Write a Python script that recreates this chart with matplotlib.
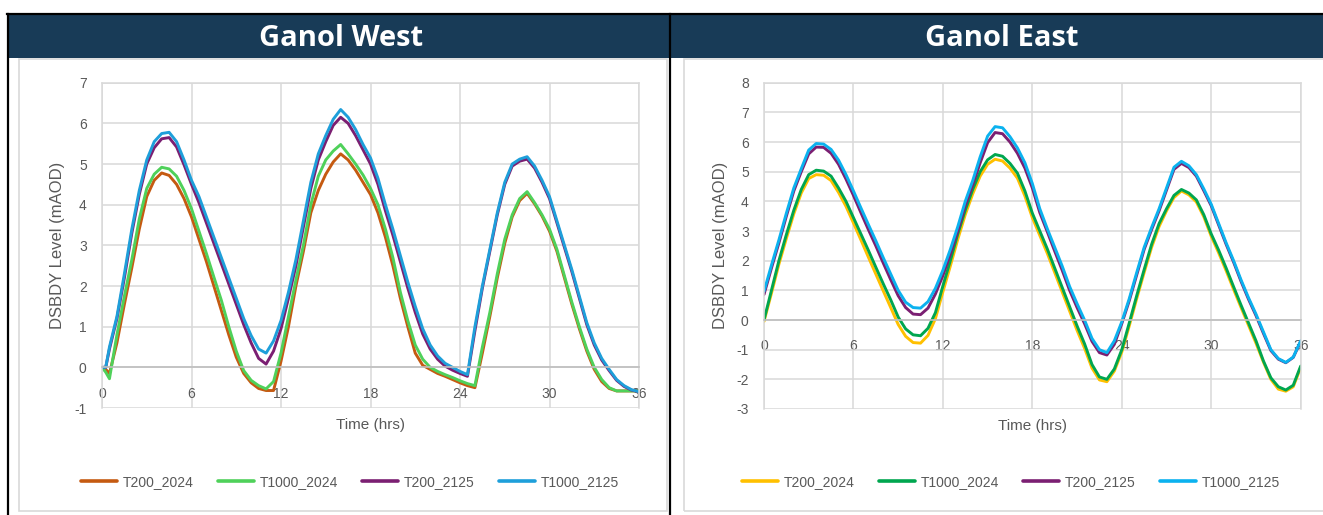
import numpy as np
import matplotlib
matplotlib.use("Agg")
import matplotlib.pyplot as plt
from matplotlib.patches import Rectangle
from matplotlib.lines import Line2D

plt.rcParams['font.family'] = ['Liberation Sans', 'DejaVu Sans']
plt.rcParams['axes.unicode_minus'] = False

# ---- data (DSBDY level in mAOD) ----
series_names = ['T200_2024', 'T1000_2024', 'T200_2125', 'T1000_2125']
x_ticks = [0, 6, 12, 18, 24, 30, 36]
x_tick_labels = ['0', '6', '12', '18', '24', '30', '36']

# half-hour steps; the west record has one extra sample at 0.25 h
hours_east = np.arange(0, 36.5, 0.5)
hours_west = np.insert(hours_east, 1, 0.25)

west_t200_2024 = [0, -0.05, -0.15, 0.6, 1.55, 2.45, 3.4, 4.2, 4.6, 4.78, 4.72, 4.5, 4.15,
                  3.7, 3.15, 2.6, 2.0, 1.4, 0.8, 0.25, -0.15, -0.38, -0.52, -0.57, -0.57,
                  0.15, 1.0, 2.0, 2.85, 3.8, 4.35, 4.75, 5.05, 5.25, 5.1, 4.85, 4.55,
                  4.25, 3.8, 3.2, 2.5, 1.7, 1.0, 0.35, 0.05, -0.05, -0.15, -0.22, -0.3,
                  -0.38, -0.45, -0.5, 0.35, 1.25, 2.2, 3.05, 3.7, 4.1, 4.28, 4.02, 3.72,
                  3.35, 2.85, 2.2, 1.55, 0.95, 0.4, -0.05, -0.35, -0.52, -0.58, -0.58, -0.58,
                  -0.58]
west_t1000_2024 = [0, -0.12, -0.28, 0.8, 1.75, 2.65, 3.65, 4.4, 4.75, 4.92, 4.88, 4.7, 4.35,
                   3.9, 3.35, 2.8, 2.22, 1.65, 1.0, 0.4, -0.08, -0.32, -0.45, -0.53, -0.35,
                   0.35, 1.25, 2.15, 3.0, 4.0, 4.7, 5.1, 5.32, 5.48, 5.25, 5.0, 4.73,
                   4.4, 4.0, 3.4, 2.7, 1.85, 1.15, 0.55, 0.2, 0.0, -0.1, -0.18, -0.25,
                   -0.33, -0.4, -0.45, 0.5, 1.35, 2.3, 3.15, 3.75, 4.15, 4.32, 4.05, 3.75,
                   3.4, 2.9, 2.25, 1.6, 1.0, 0.45, 0.0, -0.3, -0.5, -0.58, -0.58, -0.58,
                   -0.58]
west_t200_2125 = [0, 0, 0.45, 1.2, 2.2, 3.3, 4.25, 5.0, 5.4, 5.62, 5.65, 5.42, 4.98,
                  4.5, 4.05, 3.55, 3.05, 2.55, 2.05, 1.55, 1.05, 0.6, 0.22, 0.08, 0.4,
                  0.95, 1.7, 2.5, 3.45, 4.4, 5.1, 5.55, 5.95, 6.15, 6.0, 5.7, 5.35,
                  5.0, 4.5, 3.85, 3.25, 2.6, 1.95, 1.35, 0.82, 0.45, 0.2, 0.03, -0.07,
                  -0.15, -0.22, 0.9, 1.95, 2.85, 3.75, 4.5, 4.95, 5.07, 5.12, 4.9, 4.55,
                  4.15, 3.55, 2.95, 2.35, 1.7, 1.05, 0.55, 0.18, -0.08, -0.32, -0.47, -0.56,
                  -0.6]
west_t1000_2125 = [0, 0, 0.5, 1.25, 2.3, 3.4, 4.35, 5.1, 5.55, 5.75, 5.78, 5.55, 5.1,
                   4.6, 4.2, 3.7, 3.2, 2.7, 2.2, 1.7, 1.2, 0.78, 0.45, 0.35, 0.65,
                   1.15, 1.85, 2.65, 3.6, 4.55, 5.25, 5.7, 6.1, 6.34, 6.15, 5.85, 5.48,
                   5.15, 4.65, 4.0, 3.4, 2.75, 2.1, 1.5, 0.95, 0.55, 0.28, 0.1, 0.0,
                   -0.1, -0.18, 1.0, 2.0, 2.9, 3.8, 4.55, 5.0, 5.12, 5.18, 4.95, 4.6,
                   4.2, 3.6, 3.0, 2.4, 1.75, 1.1, 0.6, 0.22, -0.05, -0.3, -0.45, -0.55,
                   -0.6]

east_t200_2024 = [-0.05, 0.9, 1.88, 2.75, 3.58, 4.28, 4.77, 4.9, 4.88, 4.7, 4.3, 3.83,
                  3.27, 2.7, 2.12, 1.55, 0.98, 0.42, -0.15, -0.55, -0.76, -0.78, -0.52, 0.05,
                  0.95, 1.82, 2.72, 3.55, 4.25, 4.85, 5.25, 5.42, 5.36, 5.12, 4.78, 4.18,
                  3.45, 2.85, 2.25, 1.6, 0.95, 0.3, -0.35, -0.95, -1.62, -2.02, -2.08, -1.72,
                  -1.08, -0.2, 0.72, 1.6, 2.45, 3.15, 3.68, 4.13, 4.35, 4.22, 3.98, 3.48,
                  2.82, 2.26, 1.66, 1.03, 0.42, -0.18, -0.78, -1.42, -2.0, -2.33, -2.4, -2.25,
                  -1.6]
east_t1000_2024 = [0.0, 1.0, 2.0, 2.88, 3.7, 4.4, 4.9, 5.05, 5.02, 4.85, 4.45, 4.0,
                   3.45, 2.9, 2.35, 1.78, 1.22, 0.68, 0.1, -0.3, -0.5, -0.53, -0.28, 0.25,
                   1.15, 2.0, 2.9, 3.7, 4.4, 5.0, 5.4, 5.58, 5.52, 5.28, 4.95, 4.35,
                   3.6, 3.0, 2.4, 1.75, 1.1, 0.45, -0.2, -0.8, -1.5, -1.92, -2.0, -1.65,
                   -1.0, -0.1, 0.82, 1.7, 2.55, 3.25, 3.75, 4.2, 4.4, 4.28, 4.05, 3.55,
                   2.9, 2.35, 1.75, 1.12, 0.5, -0.1, -0.7, -1.38, -1.95, -2.25, -2.36, -2.2,
                   -1.55]
east_t200_2125 = [0.86, 1.75, 2.6, 3.5, 4.35, 5.0, 5.6, 5.83, 5.82, 5.62, 5.25, 4.75,
                  4.2, 3.62, 3.05, 2.5, 1.92, 1.36, 0.82, 0.42, 0.2, 0.18, 0.4, 0.88,
                  1.5, 2.22, 3.0, 3.85, 4.55, 5.3, 5.98, 6.32, 6.28, 6.0, 5.62, 5.12,
                  4.45, 3.62, 2.98, 2.32, 1.68, 1.0, 0.42, -0.12, -0.72, -1.1, -1.18, -0.82,
                  -0.12, 0.65, 1.52, 2.38, 3.05, 3.68, 4.38, 5.08, 5.28, 5.14, 4.85, 4.36,
                  3.85, 3.2, 2.55, 1.95, 1.3, 0.7, 0.15, -0.45, -1.03, -1.32, -1.44, -1.26,
                  -0.72]
east_t1000_2125 = [0.96, 1.85, 2.7, 3.6, 4.45, 5.1, 5.73, 5.95, 5.93, 5.75, 5.39, 4.9,
                   4.35, 3.78, 3.22, 2.67, 2.1, 1.55, 1.0, 0.6, 0.42, 0.4, 0.62, 1.07,
                   1.68, 2.38, 3.15, 4.0, 4.7, 5.5, 6.2, 6.52, 6.48, 6.18, 5.8, 5.3,
                   4.6, 3.75, 3.08, 2.45, 1.82, 1.13, 0.55, 0.0, -0.62, -1.0, -1.1, -0.7,
                   -0.06, 0.72, 1.6, 2.45, 3.12, 3.75, 4.45, 5.15, 5.35, 5.2, 4.9, 4.42,
                   3.9, 3.25, 2.6, 2.0, 1.35, 0.75, 0.2, -0.4, -1.0, -1.3, -1.43, -1.25,
                   -0.7]

west_colors = ['#C55A11', '#4FD15A', '#7B1F72', '#1E9FDA']
east_colors = ['#FFC000', '#00A64F', '#7B1F72', '#0BB2EF']

W, H = 1323, 515
TXT = '#595959'
GRID = '#D9D9D9'

fig = plt.figure(figsize=(W / 100, H / 100), dpi=100)


def fx(x):
    return x / W


def fy(y):
    return 1 - y / H


# table frame: header band, black rules, chart-area borders
fig.add_artist(Rectangle((fx(8), fy(58)), fx(1323 - 8), (58 - 14) / H,
                         transform=fig.transFigure, fc='#183B57', ec='none'))
for (x0, y0, x1, y1) in [(7, 14, 1323, 14), (8, 14, 8, 515), (670, 14, 670, 515)]:
    fig.add_artist(Line2D([fx(x0), fx(x1)], [fy(y0), fy(y1)], transform=fig.transFigure,
                          color='black', lw=1.6))
for (x0, x1) in [(19, 667), (684, 1340)]:
    fig.add_artist(Rectangle((fx(x0), fy(511)), fx(x1 - x0), (511 - 59) / H,
                             transform=fig.transFigure, fill=False, ec=GRID, lw=1.2))

fig.text(fx(341), fy(38), 'Ganol West', color='white', fontsize=21, weight='bold',
         family=['Open Sans', 'DejaVu Sans'], ha='center', va='center')
fig.text(fx(1002), fy(38), 'Ganol East', color='white', fontsize=21, weight='bold',
         family=['Open Sans', 'DejaVu Sans'], ha='center', va='center')


def panel(rect, hours, data, colors, ylim, legend_x):
    ax = fig.add_axes(rect)
    for vals, col, name in zip(data, colors, series_names):
        ax.plot(hours, vals, color=col, lw=2.1, label=name,
                solid_capstyle='round', solid_joinstyle='round')
    ax.set_xlim(0, 36)
    ax.set_ylim(*ylim)
    ax.set_xticks(x_ticks)
    ax.set_xticklabels(x_tick_labels)
    ax.set_yticks(np.arange(ylim[0], ylim[1] + 1))
    ax.grid(True, color=GRID, lw=1.1)
    ax.set_axisbelow(True)
    for s in ['top', 'left', 'right']:
        ax.spines[s].set_color(GRID)
        ax.spines[s].set_linewidth(1.1)
    ax.spines['bottom'].set_position(('data', 0))
    ax.spines['bottom'].set_color('#BFBFBF')
    ax.spines['bottom'].set_linewidth(1.2)
    ax.tick_params(axis='x', length=0, pad=14, labelsize=10, labelcolor=TXT)
    ax.tick_params(axis='y', length=0, pad=11, labelsize=10, labelcolor=TXT)
    ax.set_ylabel('DSBDY Level (mAOD)', fontsize=12, color=TXT)
    ax.yaxis.set_label_coords(-0.068, 0.5)
    ax.text(0.5, -0.052, 'Time (hrs)', transform=ax.transAxes, ha='center', va='center',
            fontsize=11, color=TXT)
    fig.legend(handles=ax.get_lines(), loc='center', bbox_to_anchor=(fx(legend_x), fy(482)),
               ncol=4, frameon=False, fontsize=10, labelcolor=TXT, handlelength=2.6,
               handletextpad=0.4, columnspacing=1.75)
    for ln in fig.legends[-1].get_lines():
        ln.set_linewidth(2.6)
    return ax


panel([fx(102), fy(408), fx(537), 325.3 / H], hours_west,
      [west_t200_2024, west_t1000_2024, west_t200_2125, west_t1000_2125],
      west_colors, (-1, 7), 350)
panel([fx(764), fy(409), fx(536.7), 326.3 / H], hours_east,
      [east_t200_2024, east_t1000_2024, east_t200_2125, east_t1000_2125],
      east_colors, (-3, 8), 1011)

fig.savefig('out.png', dpi=100)
